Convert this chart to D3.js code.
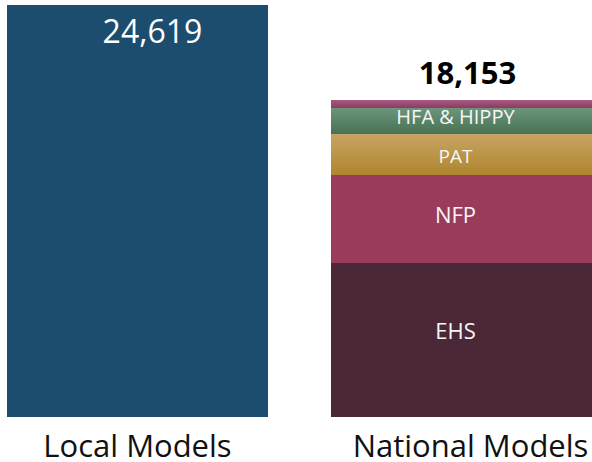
<!DOCTYPE html>
<html>
<head>
<meta charset="utf-8">
<script src="https://cdn.jsdelivr.net/npm/d3@7"></script>
<style>
  html, body { margin: 0; padding: 0; background: #ffffff; }
  svg { display: block; }
</style>
</head>
<body>
<svg id="chart" width="592" height="462"></svg>
<script>
// ---- data ----
const categories = ["Local Models", "National Models"];
const localTotal = 24619;
const nationalTotal = 18153;
const nationalSegments = ["EHS", "NFP", "PAT", "HFA & HIPPY", "Other"];
const nationalValues = [8819, 5039, 2348, 1489, 458];
const segmentLabels = ["EHS", "NFP", "PAT", "HFA & HIPPY", ""];

// ---- styles ----
const localColor = "#1c4d6e";
const segColors = {
  "EHS": ["#4a2838", "#4a2838"],
  "NFP": ["#9a3b5b", "#9a3b5b"],
  "PAT": ["#c7a462", "#af862f"],
  "HFA & HIPPY": ["#6c957a", "#477255"],
  "Other": ["#a65b84", "#8d3a63"]
};
const labelSize = { "EHS": 22, "NFP": 22, "PAT": 19, "HFA & HIPPY": 20 };
const labelDy = { "EHS": -1, "NFP": 4, "PAT": 8.5, "HFA & HIPPY": 3 };
const font = "'Open Sans', 'Liberation Sans', sans-serif";

const svg = d3.select("#chart");
const baseY = 417;

const x = d3.scaleBand().domain(categories).range([7, 592]).paddingInner(63 / 324).paddingOuter(0);

// Each bar was its own panel in the original, with its own value axis
const yLocal = d3.scaleLinear().domain([0, localTotal]).range([baseY, 5]);
const yNat = d3.scaleLinear().domain([0, nationalTotal]).range([baseY, 100]);

// gradients
const defs = svg.append("defs");
nationalSegments.forEach((s, i) => {
  const g = defs.append("linearGradient").attr("id", "g" + i)
    .attr("x1", 0).attr("y1", 0).attr("x2", 0).attr("y2", 1);
  g.append("stop").attr("offset", "0%").attr("stop-color", segColors[s][0]);
  g.append("stop").attr("offset", "100%").attr("stop-color", segColors[s][1]);
});

// Local bar
svg.append("rect")
  .attr("x", x("Local Models"))
  .attr("width", x.bandwidth())
  .attr("y", yLocal(localTotal))
  .attr("height", yLocal(0) - yLocal(localTotal))
  .attr("fill", localColor);

svg.append("text")
  .attr("x", x("Local Models") + x.bandwidth() / 2 + 15)
  .attr("y", 43)
  .attr("text-anchor", "middle")
  .attr("font-family", font)
  .attr("font-size", 32)
  .attr("fill", "#ffffff")
  .text(d3.format(",")(localTotal));

// National stacked bar
const stackRow = {};
nationalSegments.forEach((s, i) => stackRow[s] = nationalValues[i]);
const series = d3.stack().keys(nationalSegments)([stackRow]);

const xn = x("National Models");
const gNat = svg.append("g");
series.forEach((ser, i) => {
  const d = ser[0];
  gNat.append("rect")
    .attr("x", xn)
    .attr("width", x.bandwidth())
    .attr("y", yNat(d[1]))
    .attr("height", yNat(d[0]) - yNat(d[1]))
    .attr("fill", "url(#g" + i + ")");
});
series.forEach((ser, i) => {
  const d = ser[0];
  const name = nationalSegments[i];
  const lbl = segmentLabels[i];
  if (!lbl) return;
  const mid = (yNat(d[0]) + yNat(d[1])) / 2;
  gNat.append("text")
    .attr("x", xn + x.bandwidth() / 2 - 6)
    .attr("y", mid + labelDy[name])
    .attr("text-anchor", "middle")
    .attr("font-family", font)
    .attr("font-size", labelSize[name])
    .attr("fill", "#f7f7f7")
    .text(lbl);
});

svg.append("text")
  .attr("x", xn + x.bandwidth() / 2 + 6)
  .attr("y", yNat(nationalTotal) - 16)
  .attr("text-anchor", "middle")
  .attr("font-family", font)
  .attr("font-weight", "bold")
  .attr("font-size", 31)
  .attr("fill", "#000000")
  .text(d3.format(",")(nationalTotal));

// Category labels
const catDx = { "Local Models": 0, "National Models": 9 };
svg.selectAll("text.cat")
  .data(categories)
  .join("text")
  .attr("class", "cat")
  .attr("x", d => x(d) + x.bandwidth() / 2 + catDx[d])
  .attr("y", 457)
  .attr("text-anchor", "middle")
  .attr("font-family", font)
  .attr("font-size", 31)
  .attr("fill", "#111111")
  .text(d => d);
</script>
</body>
</html>
